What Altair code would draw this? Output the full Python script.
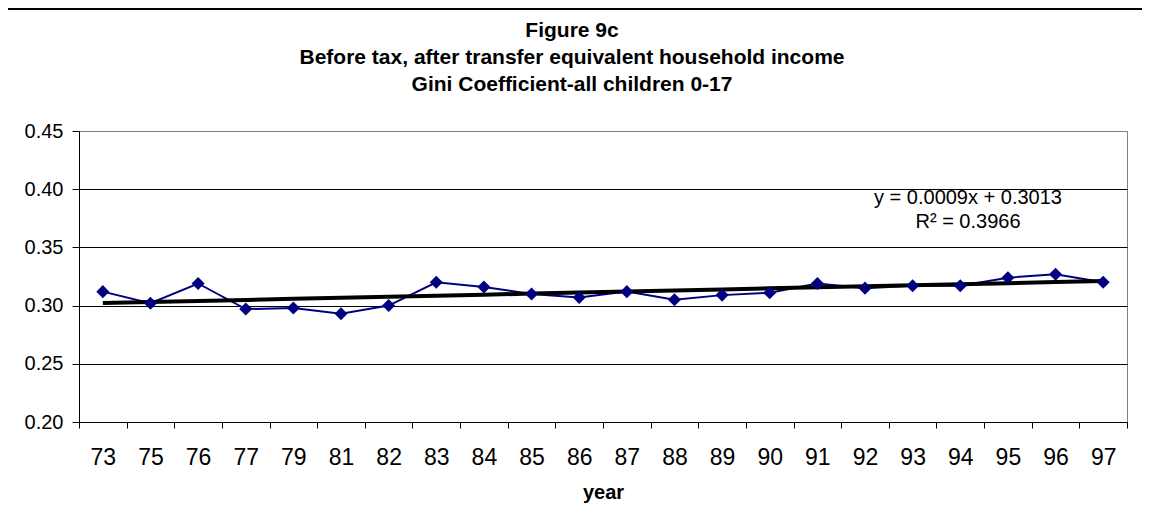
import pandas as pd
import altair as alt

# Data
years = ["73", "75", "76", "77", "79", "81", "82", "83", "84", "85", "86",
         "87", "88", "89", "90", "91", "92", "93", "94", "95", "96", "97"]
gini = [0.312, 0.302, 0.319, 0.297, 0.298, 0.293, 0.300, 0.320, 0.316, 0.310, 0.307,
        0.312, 0.305, 0.309, 0.311, 0.319, 0.315, 0.317, 0.317, 0.324, 0.327, 0.320]
y_ticks = [0.20, 0.25, 0.30, 0.35, 0.40, 0.45]

# Excel linear trendline, as printed on the chart
trend_slope = 0.0009
trend_intercept = 0.3013
trend_labels = ["y = 0.0009x + 0.3013", "R² = 0.3966"]

title_lines = [
    "Figure 9c",
    "Before tax, after transfer equivalent household income",
    "Gini Coefficient-all children 0-17",
]

df = pd.DataFrame({"year": years, "gini": gini})
df["idx"] = range(1, len(df) + 1)

W, H = 1048, 291

x_enc = alt.X(
    "year:O",
    sort=years,
    scale=alt.Scale(type="band", paddingInner=0, paddingOuter=0),
    axis=alt.Axis(
        title="year",
        titleFontSize=20,
        titleFontWeight="bold",
        titlePadding=13,
        labelAngle=0,
        labelFontSize=23,
        labelPadding=18,
        labelColor="black",
        tickBand="extent",
        tickSize=6,
        tickColor="black",
        domainColor="black",
        grid=False,
    ),
)
y_enc = alt.Y(
    "gini:Q",
    scale=alt.Scale(domain=[0.20, 0.45], nice=False, zero=False),
    axis=alt.Axis(
        title=None,
        values=y_ticks,
        format=".2f",
        labelFontSize=20,
        labelColor="black",
        labelPadding=9,
        tickSize=7,
        tickColor="black",
        domainColor="black",
        gridColor=alt.condition("datum.value >= 0.449", alt.value("#808080"), alt.value("black")),
        gridWidth=1,
    ),
)

base = alt.Chart(df)

series = base.mark_line(color="#000080", strokeWidth=2).encode(x=x_enc, y=y_enc)
markers = base.mark_point(
    shape="diamond", filled=True, size=170, color="#000080", opacity=1
).encode(x=x_enc, y=y_enc)

trend = (
    base.transform_calculate(trend=f"{trend_slope} * datum.idx + {trend_intercept}")
    .mark_line(color="black", strokeWidth=4)
    .encode(x=x_enc, y=alt.Y("trend:Q"))
)

eq_df = pd.DataFrame({"label": trend_labels, "row": [0, 1]})
equation = (
    alt.Chart(eq_df)
    .mark_text(fontSize=20, color="black", align="center", baseline="middle")
    .encode(
        text="label:N",
        x=alt.value(889),
        y=alt.YValue(alt.ExprRef("67 + datum.row * 24")),
    )
)

title_df = pd.DataFrame({"line": title_lines, "row": [0, 1, 2]})
title = (
    alt.Chart(title_df)
    .mark_text(fontSize=21, fontWeight="bold", color="black", align="center", baseline="alphabetic")
    .encode(
        text="line:N",
        x=alt.value(493),
        y=alt.YValue(alt.ExprRef("-94 + datum.row * 27")),
    )
)

# Outer chart frame (top and right edges as in the original)
frame_top = base.mark_rule(color="black", strokeWidth=1.5).encode(
    x=alt.value(-71), x2=alt.value(1064), y=alt.value(-122)
)
frame_right = base.mark_rule(color="black", strokeWidth=1.5).encode(
    x=alt.value(1064), y=alt.value(-122), y2=alt.value(384)
)

chart = (
    alt.layer(series, trend, markers, equation, title, frame_top, frame_right)
    .properties(
        width=W,
        height=H,
        autosize=alt.AutoSizeParams(type="none"),
        padding={"left": 71, "top": 123, "right": 15, "bottom": 84},
    )
    .configure(font="Liberation Sans")
    .configure_view(stroke="#808080", strokeWidth=1)
)

chart.save("out.html", embed_options={"renderer": "svg", "actions": False})
